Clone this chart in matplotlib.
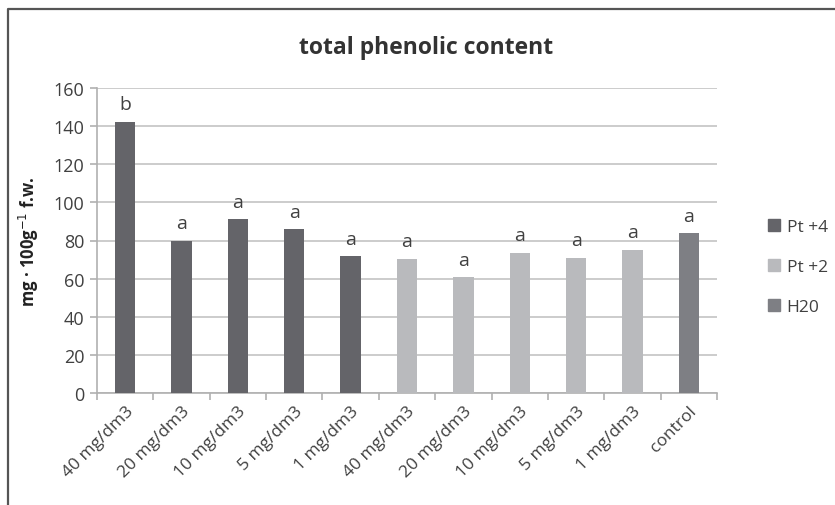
import matplotlib.pyplot as plt
from matplotlib.patches import Patch
from matplotlib.lines import Line2D

plt.rcParams['font.family'] = ['Open Sans', 'DejaVu Sans']

categories = ['40 mg/dm3', '20 mg/dm3', '10 mg/dm3', '5 mg/dm3', '1 mg/dm3',
              '40 mg/dm3', '20 mg/dm3', '10 mg/dm3', '5 mg/dm3', '1 mg/dm3', 'control']
values = [142.2, 80.0, 91.1, 85.9, 71.7, 70.3, 60.7, 73.5, 70.8, 75.2, 83.8]
groups = ['Pt +4'] * 5 + ['Pt +2'] * 5 + ['H20']
letters = ['b', 'a', 'a', 'a', 'a', 'a', 'a', 'a', 'a', 'a', 'a']
group_names = ['Pt +4', 'Pt +2', 'H20']

colors = {'Pt +4': '#646469', 'Pt +2': '#b9babd', 'H20': '#7e7f84'}
text_col = '#404040'

fig = plt.figure(figsize=(8.35, 5.06), dpi=100)
ax = fig.add_axes([97 / 835, 1 - 394 / 506, 620 / 835, 305 / 506])

x = list(range(len(categories)))
ax.bar(x, values, width=0.36, color=[colors[g] for g in groups], zorder=3)
for xi, v, lt in zip(x, values, letters):
    ax.text(xi, v + 4.5, lt, ha='center', va='bottom', fontsize=14, color=text_col)

ax.set_xlim(-0.5, len(categories) - 0.5)
ax.set_ylim(0, 160)
ax.set_yticks(range(0, 161, 20))
ax.yaxis.grid(True, color='#c4c4c4', linewidth=1.2, zorder=0)
ax.set_xticks([i - 0.5 for i in range(len(categories) + 1)])
ax.set_xticklabels([])
ax.set_xticks(x, minor=True)
ax.set_xticklabels(categories, minor=True, rotation=45, ha='right',
                   rotation_mode='anchor', fontsize=12.5, color=text_col)
ax.tick_params(axis='x', which='minor', length=0, pad=7)
ax.tick_params(axis='x', which='major', length=5, color='#b0b0b0', width=1.2)
ax.tick_params(axis='y', length=5, color='#b0b0b0', width=1.2, labelsize=13,
               labelcolor=text_col, pad=4)
for s in ['top', 'right']:
    ax.spines[s].set_visible(False)
for s in ['left', 'bottom']:
    ax.spines[s].set_color('#b0b0b0')
    ax.spines[s].set_linewidth(1.2)

ax.set_ylabel('mg · 100g$^{-1}$ f.w.', fontsize=12, fontweight='bold', color='#222222')
ax.yaxis.set_label_coords(-0.09, 0.5)

fig.text(426 / 835, 1 - 48 / 506, 'total phenolic content', ha='center', va='center',
         fontsize=16.5, fontweight='bold', color='#333333')

handles = [Patch(color=colors[g]) for g in group_names]
fig.legend(handles, group_names, loc='center left', bbox_to_anchor=(752 / 835, 1 - 268 / 506),
           frameon=False, fontsize=12.5, labelcolor=text_col, handlelength=0.7,
           handleheight=0.7, handletextpad=0.4, labelspacing=1.35)

# outer chart frame: only top and left edges visible in the picture
fig.add_artist(Line2D([8 / 835, 8 / 835, 1.01], [-0.01, 1 - 10 / 506, 1 - 10 / 506],
                      transform=fig.transFigure, color='#555555', linewidth=1.6))

plt.savefig('out.png', dpi=100)
